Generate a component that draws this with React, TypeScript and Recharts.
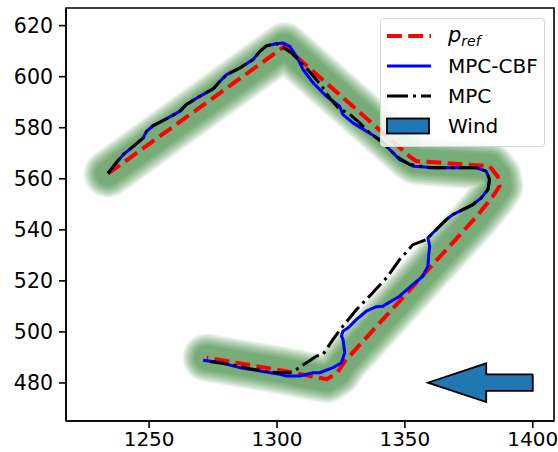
import React from 'react';
import { ComposedChart, Line, Area, XAxis, YAxis, ReferenceArea } from 'recharts';

// reference path (also the corridor centreline)
const refPath = [
  [1233.9, 562.0], [1303.0, 611.9], [1351.9, 568.7], [1354.5, 566.9], [1367.5, 566.0],
  [1383.1, 564.9], [1386.3, 560.9], [1387.0, 557.0], [1384.3, 553.0], [1381.2, 549.1],
  [1378.0, 545.2], [1326.5, 488.5], [1323.5, 484.0], [1319.5, 481.5], [1315.0, 482.3],
  [1303.0, 484.7], [1272.5, 489.9],
];

const mpcCbfPath = [
  [1233.9, 562.1], [1236.6, 565.6], [1239.9, 569.5], [1243.8, 572.7], [1247.7, 576.0],
  [1249.0, 578.6], [1251.6, 580.8], [1256.8, 583.5], [1262.0, 586.4], [1264.6, 589.1],
  [1269.8, 592.3], [1275.0, 595.2], [1277.7, 598.2], [1280.3, 600.8], [1285.5, 603.4],
  [1290.7, 606.7], [1293.3, 609.9], [1295.9, 612.1], [1299.8, 612.9], [1302.3, 613.2],
  [1305.0, 611.9], [1307.6, 608.0], [1310.2, 602.8], [1314.1, 597.6], [1319.3, 592.3],
  [1324.5, 588.4], [1325.8, 585.1], [1329.7, 581.9], [1335.0, 578.6], [1340.2, 575.4],
  [1344.1, 571.4], [1348.0, 567.5], [1353.2, 564.9], [1362.3, 564.3], [1370.1, 564.3],
  [1377.9, 564.3], [1381.8, 563.0], [1383.1, 559.7], [1382.5, 555.8], [1379.9, 552.5],
  [1376.6, 549.9], [1372.7, 547.9], [1368.8, 546.0], [1366.2, 544.0], [1362.3, 540.1],
  [1359.0, 536.9], [1359.7, 533.6], [1359.3, 529.9], [1359.0, 525.8], [1357.0, 521.8],
  [1353.2, 518.6], [1347.9, 514.0], [1341.4, 510.1], [1338.9, 509.9], [1334.9, 508.1],
  [1331.1, 504.9], [1327.8, 501.6], [1325.8, 500.3], [1325.2, 498.4], [1325.8, 497.1],
  [1326.5, 491.9], [1325.2, 487.9], [1321.9, 486.0], [1316.7, 484.0], [1314.1, 484.0],
  [1308.9, 482.7], [1303.7, 482.7], [1301.1, 483.4], [1293.3, 484.7], [1285.5, 486.0],
  [1277.7, 488.0], [1271.1, 488.9],
];

const mpcPath = [
  [1233.9, 562.1], [1236.6, 565.6], [1239.9, 569.5], [1243.8, 572.7], [1247.7, 576.0],
  [1249.0, 578.6], [1251.6, 580.8], [1256.8, 583.5], [1262.0, 586.4], [1264.6, 589.1],
  [1269.8, 592.3], [1275.0, 595.2], [1277.7, 598.2], [1280.3, 600.8], [1285.5, 603.4],
  [1290.7, 606.7], [1293.3, 609.9], [1295.9, 612.1], [1299.8, 612.9], [1301.7, 611.9],
  [1305.7, 609.3], [1308.9, 606.0], [1312.1, 602.7], [1315.4, 598.8], [1318.0, 595.6],
  [1320.6, 591.7], [1323.9, 587.8], [1328.4, 585.3], [1332.3, 581.9], [1336.2, 578.0],
  [1341.4, 574.1], [1346.7, 568.8], [1351.9, 565.6], [1359.7, 564.3], [1370.1, 564.3],
  [1377.9, 564.3], [1381.8, 563.0], [1383.1, 559.7], [1382.5, 555.8], [1379.9, 552.5],
  [1376.6, 549.9], [1372.7, 547.9], [1368.8, 546.0], [1366.2, 544.0], [1362.3, 540.1],
  [1358.4, 536.2], [1353.2, 534.2], [1348.0, 528.4], [1342.8, 521.2], [1337.5, 515.4],
  [1331.1, 508.8], [1325.8, 502.3], [1321.9, 497.1], [1318.0, 491.2], [1315.4, 490.5],
  [1311.5, 487.9], [1307.6, 485.3], [1305.0, 484.0], [1301.1, 484.0], [1297.2, 484.3],
  [1289.4, 485.6], [1281.6, 487.3], [1272.5, 488.6],
];

// wind arrow: filled band (x, low, high) and outline
const windFill = [
  [1359.0, 480.1, 480.1], [1381.8, 472.5, 487.7], [1381.8, 476.9, 483.4], [1400.0, 476.9, 483.4],
];
const windOutline = [
  [1400.0, 483.4], [1381.8, 483.4], [1381.8, 487.7], [1359.0, 480.1], [1381.8, 472.5],
  [1381.8, 476.9], [1400.0, 476.9], [1400.0, 483.4],
];

const xTicks = [1250, 1300, 1350, 1400];
const yTicks = [480, 500, 520, 540, 560, 580, 600, 620];
const xDomain = [1217.5, 1408.3];
const yDomain = [465.1, 626.9];

const toXY = (pts: number[][]) => pts.map(([x, y]) => ({ x, y }));

// soft-edged corridor: stacked translucent strokes
const corridorWidths = [48, 45, 42, 39, 36, 33, 30, 27, 24];

const FONT = '"DejaVu Sans", sans-serif';

function LegendBox() {
  const row = { display: 'flex', alignItems: 'center', height: 30 } as const;
  const label = { marginLeft: 13, fontSize: 20, color: '#000', fontFamily: FONT } as const;
  return (
    <div
      style={{
        position: 'absolute', left: 380, top: 18, width: 163, height: 125,
        border: '1px solid #d6d6d6', borderRadius: 4, background: 'rgba(255,255,255,0.85)',
        boxSizing: 'content-box', paddingTop: 2,
      }}
    >
      <div style={row}>
        <svg width={50} height={20} style={{ marginLeft: 4 }}>
          <line x1={2} y1={10} x2={46} y2={10} stroke="#ff0000" strokeWidth={4} strokeDasharray="14.8 6.4" />
        </svg>
        <span style={{ ...label, fontStyle: 'italic', fontSize: 21 }}>
          p<sub style={{ fontSize: 14, verticalAlign: '-4px' }}>ref</sub>
        </span>
      </div>
      <div style={row}>
        <svg width={50} height={20} style={{ marginLeft: 4 }}>
          <line x1={2} y1={10} x2={46} y2={10} stroke="#0000ff" strokeWidth={3} />
        </svg>
        <span style={label}>MPC-CBF</span>
      </div>
      <div style={row}>
        <svg width={50} height={20} style={{ marginLeft: 4 }}>
          <line x1={2} y1={10} x2={46} y2={10} stroke="#000" strokeWidth={3} strokeDasharray="21 5 3 5" />
        </svg>
        <span style={label}>MPC</span>
      </div>
      <div style={row}>
        <svg width={50} height={20} style={{ marginLeft: 4 }}>
          <rect x={2} y={2.5} width={42} height={15} fill="#1f77b4" stroke="#000" strokeWidth={1.8} />
        </svg>
        <span style={label}>Wind</span>
      </div>
    </div>
  );
}

export default function App() {
  const yTick = { fill: '#000', fontSize: 20.5, fontFamily: FONT };
  const xTick = { fill: '#000', fontSize: 20, fontFamily: FONT };
  return (
    <div style={{ position: 'absolute', left: 0, top: 0, width: 558, height: 452, background: '#fff' }}>
      <ComposedChart width={558} height={452} margin={{ top: 8, right: 4, bottom: 0, left: 0 }}>
        <XAxis
          type="number" dataKey="x" domain={xDomain} ticks={xTicks} allowDataOverflow
          tick={xTick} tickSize={7} tickMargin={4} height={31}
          axisLine={{ stroke: '#000', strokeWidth: 1.6 }} tickLine={{ stroke: '#000', strokeWidth: 1.6 }}
        />
        <YAxis
          type="number" dataKey="y" domain={yDomain} ticks={yTicks} allowDataOverflow
          tick={yTick} tickSize={7} tickMargin={6} width={66}
          axisLine={{ stroke: '#000', strokeWidth: 1.6 }} tickLine={{ stroke: '#000', strokeWidth: 1.6 }}
        />
        {corridorWidths.map((w) => (
          <Line
            key={w} data={toXY(refPath)} dataKey="y" type="linear" dot={false} activeDot={false}
            stroke="#1a741a" strokeOpacity={0.09} strokeWidth={w}
            strokeLinecap="round" strokeLinejoin="round" isAnimationActive={false} legendType="none"
          />
        ))}
        <Line
          data={toXY(refPath)} dataKey="y" type="linear" dot={false} activeDot={false}
          stroke="#ff0000" strokeWidth={4} strokeDasharray="14.8 6.4" isAnimationActive={false}
        />
        <Line
          data={toXY(mpcCbfPath)} dataKey="y" type="linear" dot={false} activeDot={false}
          stroke="#0000ff" strokeWidth={3} strokeLinejoin="round" isAnimationActive={false}
        />
        <Line
          data={toXY(mpcPath)} dataKey="y" type="linear" dot={false} activeDot={false}
          stroke="#000000" strokeWidth={3} strokeDasharray="19 5 3 5" strokeLinejoin="round" isAnimationActive={false}
        />
        <Area
          data={windFill.map(([x, lo, hi]) => ({ x, range: [lo, hi] }))} dataKey="range" type="linear"
          fill="#1f77b4" fillOpacity={1} stroke="none" isAnimationActive={false} dot={false} activeDot={false}
        />
        <Line
          data={toXY(windOutline)} dataKey="y" type="linear" dot={false} activeDot={false}
          stroke="#000" strokeWidth={1.8} strokeLinejoin="miter" isAnimationActive={false}
        />
        <ReferenceArea
          x1={xDomain[0]} x2={xDomain[1]} y1={yDomain[0]} y2={yDomain[1]}
          fill="none" stroke="#000" strokeWidth={1.6} ifOverflow="visible"
        />
      </ComposedChart>
      <LegendBox />
    </div>
  );
}
